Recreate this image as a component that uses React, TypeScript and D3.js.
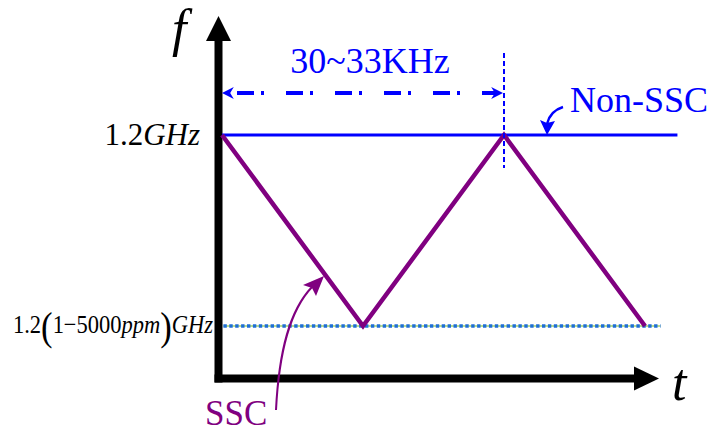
import React from "react";
import * as d3 from "d3";

// Time in half-periods of the spread-spectrum modulation, frequency in GHz
const sscTimes = [0, 1, 2, 3];
const sscFreqs = [1.2, 1.194, 1.2, 1.194];
const nonSscTimes = [0, 3.23];
const nonSscFreqs = [1.2, 1.2];
const minFreqTimes = [0.01, 3.11];
const minFreqs = [1.194, 1.194];
const periodLabel = "30~33KHz";
const seriesLabels = ["Non-SSC", "SSC"];

const W = 712;
const H = 435;
const SERIF = '"Liberation Serif", Tinos, "Times New Roman", Times, "DejaVu Serif", serif';
const BLUE = "#0000ff";
const PURPLE = "#800080";

const x = d3.scaleLinear().domain([0, 3]).range([222, 645]);
const y = d3.scaleLinear().domain([1.194, 1.2]).range([326, 135]);

const line = d3
  .line<[number, number]>()
  .x((d) => x(d[0]))
  .y((d) => y(d[1]));

const zip = (a: number[], b: number[]) => a.map((v, i) => [v, b[i]] as [number, number]);

export default function App() {
  const axisX = 218.5;
  const axisY = 378.5;
  const peakX = x(sscTimes[2]);
  const spanY = 93;
  const serif = { fontFamily: SERIF };

  return (
    <svg
      width={W}
      height={H}
      viewBox={`0 0 ${W} ${H}`}
      style={{ position: "absolute", left: 0, top: 0, background: "#fff" }}
    >
      <defs>
        <marker id="openHead" viewBox="0 0 10 10" refX="9" refY="5" markerWidth="3" markerHeight="3" orient="auto-start-reverse">
          <path d="M0,0 L10,5 L0,10 L3,5 Z" fill={BLUE} />
        </marker>
      </defs>

      {/* axes */}
      <line x1={axisX} y1={axisY + 4} x2={axisX} y2={38} stroke="#000" strokeWidth={8} />
      <path d={`M${axisX},16 L${axisX + 12.5},41 L${axisX - 12.5},41 Z`} fill="#000" />
      <line x1={axisX - 4} y1={axisY} x2={636} y2={axisY} stroke="#000" strokeWidth={8} />
      <path d={`M659,${axisY} L634,${axisY - 12} L634,${axisY + 12} Z`} fill="#000" />
      <text x={172} y={46} style={serif} fontStyle="italic" fontSize={52} fill="#000">f</text>
      <text x={672} y={400} style={serif} fontStyle="italic" fontSize={52} fill="#000">t</text>

      {/* minimum frequency level */}
      <path d={line(zip(minFreqTimes, minFreqs)) ?? ""} stroke="#b9dc8c" strokeWidth={2} fill="none" />
      <path d={line(zip(minFreqTimes, minFreqs)) ?? ""} stroke="#1f6fd6" strokeWidth={3.5} strokeDasharray="3.4 2.5" fill="none" />

      {/* Non-SSC level */}
      <path d={line(zip(nonSscTimes, nonSscFreqs)) ?? ""} stroke={BLUE} strokeWidth={3} fill="none" />

      {/* SSC triangular profile */}
      <path d={line(zip(sscTimes, sscFreqs)) ?? ""} stroke={PURPLE} strokeWidth={4.5} strokeLinejoin="miter" fill="none" />

      {/* modulation period marker */}
      <line x1={peakX} y1={53} x2={peakX} y2={168} stroke={BLUE} strokeWidth={2} strokeDasharray="5 3" />
      <line
        x1={x(0) + 1}
        y1={spanY}
        x2={peakX - 2}
        y2={spanY}
        stroke={BLUE}
        strokeWidth={4}
        strokeDasharray="0 14 17 7 3 8"
        markerStart="url(#openHead)"
        markerEnd="url(#openHead)"
      />
      <text x={370} y={73} textAnchor="middle" style={serif} fontSize={36} fill={BLUE}>
        {periodLabel}
      </text>

      {/* frequency labels */}
      <text x={200} y={145} textAnchor="end" style={serif} fontSize={31} fill="#000">
        1.2<tspan fontStyle="italic">GHz</tspan>
      </text>
      <text x={13} y={333} style={serif} fontSize={26} fill="#000" textLength={200} lengthAdjust="spacingAndGlyphs">
        1.2
        <tspan fontSize={40} dy={7}>(</tspan>
        <tspan dy={-7}>1−5000</tspan>
        <tspan fontStyle="italic">ppm</tspan>
        <tspan fontSize={40} dy={7}>)</tspan>
        <tspan dy={-7} fontStyle="italic">GHz</tspan>
      </text>

      {/* series callouts */}
      <text x={570} y={112} style={serif} fontSize={36} fill={BLUE}>
        {seriesLabels[0]}
      </text>
      <path d="M563,107 Q550,111 547,124" stroke={BLUE} strokeWidth={2.5} fill="none" />
      <path d="M547,135 L540,120 L547,123 L555,121 Z" fill={BLUE} />

      <text x={205} y={425} style={serif} fontSize={35} fill={PURPLE}>
        {seriesLabels[1]}
      </text>
      <path d="M276,410 C279,350 290,310 312,287" stroke={PURPLE} strokeWidth={2} fill="none" />
      <path d="M324,276 L316,296 L312,288 L303,285 Z" fill={PURPLE} />
    </svg>
  );
}
